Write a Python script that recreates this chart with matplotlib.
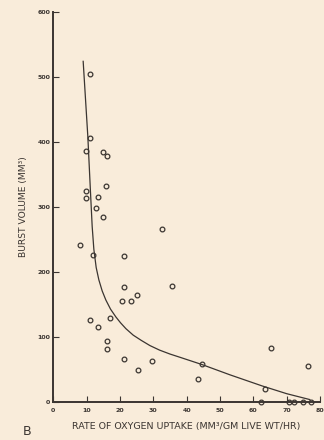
import matplotlib
matplotlib.use("Agg")
import matplotlib.pyplot as plt

# data
oxygen = [10.9, 11.0, 9.8, 14.8, 16.2, 15.9, 9.7, 9.7, 13.4, 12.7, 14.8, 32.6,
          8.0, 11.8, 21.1, 21.1, 35.5, 20.6, 23.3, 25.2, 11.1, 13.4, 17.0,
          16.0, 16.2, 21.1, 29.7, 25.5, 44.6, 43.5, 65.4, 76.3, 63.5,
          62.4, 70.8, 72.3, 74.8, 77.4]
burst = [504, 406, 386, 384, 378, 332, 325, 314, 316, 299, 285, 266,
         241, 226, 225, 177, 178, 156, 156, 164, 126, 116, 129,
         94, 82, 66, 64, 49, 58, 35, 83, 55, 20,
         0, 0, 0, 0, 0]

# fitted curve, traced by eye
curve_x = [9.0, 9.7, 10.4, 11.2, 11.7, 12.2, 12.9, 13.7, 14.7, 15.8, 17.2, 18.8,
           20.2, 21.8, 24.0, 26.4, 29.0, 31.9, 35.0, 38.0, 44.5, 53.0, 62.6,
           70.0, 76.9]
curve_y = [524, 466, 408, 322, 270, 235, 207, 188, 171, 157, 143, 131,
           122, 113, 103, 95, 87, 80, 74, 69, 58, 42, 25,
           13, 4]

xticks = [0, 10, 20, 30, 40, 50, 60, 70, 80]
yticks = [0, 100, 200, 300, 400, 500, 600]

bg = "#f9ecda"
ink = "#3b3531"

fig = plt.figure(figsize=(3.24, 4.4), dpi=100, facecolor=bg)
ax = fig.add_axes([0.164, 0.086, 0.824, 0.887])
ax.set_facecolor(bg)

ax.plot(curve_x, curve_y, color=ink, lw=0.9)
ax.plot(oxygen, burst, "o", mfc="none", mec=ink, ms=3.4, mew=0.9, clip_on=False)

ax.set_xlim(0, 80)
ax.set_ylim(0, 600)
ax.set_xticks(xticks)
ax.set_yticks(yticks)
ax.tick_params(direction="in", length=4, width=0.8, color=ink,
               labelsize=4.5, labelcolor=ink)
ax.tick_params(axis="y", pad=2)
ax.tick_params(axis="x", pad=4)
for lab in ax.get_xticklabels() + ax.get_yticklabels():
    lab.set_fontweight("bold")
for s in ["top", "right"]:
    ax.spines[s].set_visible(False)
for s in ["left", "bottom"]:
    ax.spines[s].set_linewidth(1.4)
    ax.spines[s].set_color(ink)

ax.set_ylabel("BURST VOLUME (MM³)", fontsize=6.6, color=ink, labelpad=7)
ax.set_xlabel("RATE OF OXYGEN UPTAKE (MM³/GM LIVE WT/HR)", fontsize=6.8,
              color=ink, labelpad=7)
fig.text(0.07, 0.012, "B", fontsize=9, color=ink)

fig.savefig("out.png", dpi=100, facecolor=bg)
